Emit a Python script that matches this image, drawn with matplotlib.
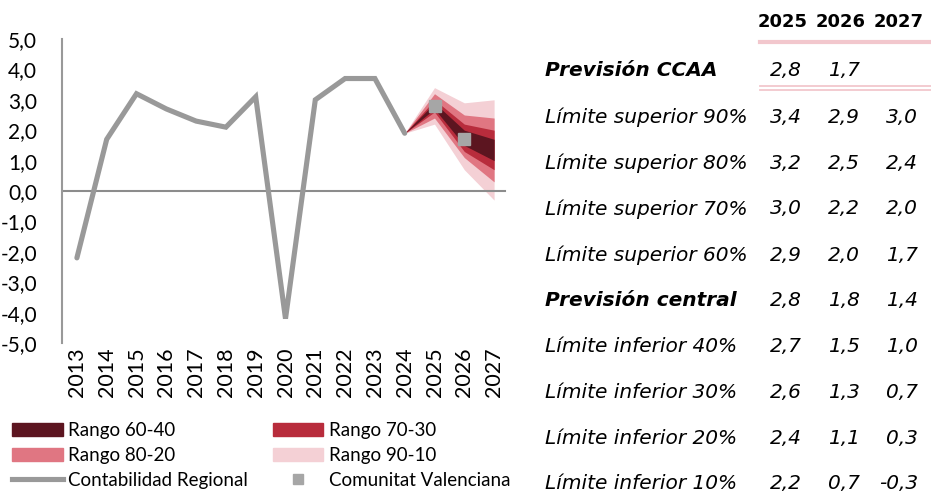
import matplotlib
matplotlib.use("Agg")
import matplotlib.pyplot as plt
from matplotlib.patches import Patch
from matplotlib.lines import Line2D

# Historical data (Contabilidad Regional)
years = [2013, 2014, 2015, 2016, 2017, 2018, 2019, 2020, 2021, 2022, 2023, 2024]
growth = [-2.2, 1.7, 3.2, 2.7, 2.3, 2.1, 3.1, -4.2, 3.0, 3.7, 3.7, 1.9]

# Forecast fan (starts from last observed year)
fan_years = [2024, 2025, 2026, 2027]
sup90 = [1.9, 3.4, 2.9, 3.0]
sup80 = [1.9, 3.2, 2.5, 2.4]
sup70 = [1.9, 3.0, 2.2, 2.0]
sup60 = [1.9, 2.9, 2.0, 1.7]
central = [1.9, 2.8, 1.8, 1.4]
inf40 = [1.9, 2.7, 1.5, 1.0]
inf30 = [1.9, 2.6, 1.3, 0.7]
inf20 = [1.9, 2.4, 1.1, 0.3]
inf10 = [1.9, 2.2, 0.7, -0.3]

# Comunitat Valenciana forecast
cv_years = [2025, 2026]
cv_values = [2.8, 1.7]

all_years = list(range(2013, 2028))

# Table
table_cols = ["2025", "2026", "2027"]
table_rows = [
    ("Previsión CCAA", True, ["2,8", "1,7", ""]),
    ("Límite superior 90%", False, ["3,4", "2,9", "3,0"]),
    ("Límite superior 80%", False, ["3,2", "2,5", "2,4"]),
    ("Límite superior 70%", False, ["3,0", "2,2", "2,0"]),
    ("Límite superior 60%", False, ["2,9", "2,0", "1,7"]),
    ("Previsión central", True, ["2,8", "1,8", "1,4"]),
    ("Límite inferior 40%", False, ["2,7", "1,5", "1,0"]),
    ("Límite inferior 30%", False, ["2,6", "1,3", "0,7"]),
    ("Límite inferior 20%", False, ["2,4", "1,1", "0,3"]),
    ("Límite inferior 10%", False, ["2,2", "0,7", "-0,3"]),
]

c6040 = "#5c1520"
c7030 = "#b82c3c"
c8020 = "#e07682"
c9010 = "#f4d0d5"
grey = "#999999"

W, H = 931, 498
fig = plt.figure(figsize=(W / 100, H / 100), dpi=100)
ax = fig.add_axes([62 / W, 1 - 343 / H, (509 - 62) / W, (343 - 39) / H])

chart_font = "Lato"
table_font = "DejaVu Sans"

ax.fill_between(fan_years, inf10, sup90, color=c9010, lw=0)
ax.fill_between(fan_years, inf20, sup80, color=c8020, lw=0)
ax.fill_between(fan_years, inf30, sup70, color=c7030, lw=0)
ax.fill_between(fan_years, inf40, sup60, color=c6040, lw=0)

ax.axhline(0, color="#8c8c8c", lw=1.5, xmax=0.99)
ax.plot(years, growth, color=grey, lw=3.7, solid_capstyle="round", solid_joinstyle="miter")
ax.plot(cv_years, cv_values, ls="none", marker="s", ms=8, color="#a6a6a6")

ax.set_xlim(2012.5, 2027.5)
ax.set_ylim(-5, 5)
yt = [5, 4, 3, 2, 1, 0, -1, -2, -3, -4, -5]
ax.set_yticks(yt)
ax.set_yticklabels([f"{v:.1f}".replace(".", ",") for v in yt], fontsize=15, family=chart_font)
ax.set_xticks(all_years)
ax.set_xticklabels([str(y) for y in all_years], rotation=90, fontsize=15.5, family=chart_font)
ax.tick_params(length=0, pad=3)
ax.tick_params(axis="y", pad=18)
for s in ["top", "right", "bottom"]:
    ax.spines[s].set_visible(False)
ax.spines["left"].set_color("#999999")
ax.spines["left"].set_linewidth(1.5)

handles = [
    Patch(color=c6040, label="Rango 60-40"),
    Patch(color=c8020, label="Rango 80-20"),
    Line2D([], [], color=grey, lw=3.7, label="Contabilidad Regional"),
    Patch(color=c7030, label="Rango 70-30"),
    Patch(color=c9010, label="Rango 90-10"),
    Line2D([], [], ls="none", marker="s", ms=7, color="#a6a6a6", label="Comunitat Valenciana"),
]
fig.legend(handles=handles, ncol=2, loc="lower left", bbox_to_anchor=(0.001, -0.004),
           frameon=False, prop={"family": chart_font, "size": 13.5},
           handlelength=2.7, handleheight=0.65, handletextpad=0.3,
           columnspacing=1.3, labelspacing=0.42, borderaxespad=0.2)


def fx(x):
    return x / W


def fy(y):
    return 1 - y / H


col_right = [802, 860, 918]
for cx, name in zip(col_right, table_cols):
    fig.text(fx(cx + 6), fy(22), name, ha="right", va="center", fontsize=13,
             fontweight="bold", family=table_font)

row_y = [70, 117, 163, 209, 255, 300, 346, 392, 438, 483]
for (label, bold, vals), y in zip(table_rows, row_y):
    fig.text(fx(545), fy(y), label, ha="left", va="center", fontsize=14.5,
             style="italic", fontweight="bold" if bold else "normal", family=table_font)
    for cx, v in zip(col_right, vals):
        fig.text(fx(cx), fy(y), v, ha="right", va="center", fontsize=14.5,
                 style="italic", family=table_font)

pink = "#f2c7cd"
fig.add_artist(Line2D([fx(760), fx(931)], [fy(42), fy(42)], color=pink, lw=3))
fig.add_artist(Line2D([fx(760), fx(931)], [fy(86), fy(86)], color=pink, lw=1.3))
fig.add_artist(Line2D([fx(760), fx(931)], [fy(90), fy(90)], color=pink, lw=1.3))

fig.savefig("out.png", dpi=100)
